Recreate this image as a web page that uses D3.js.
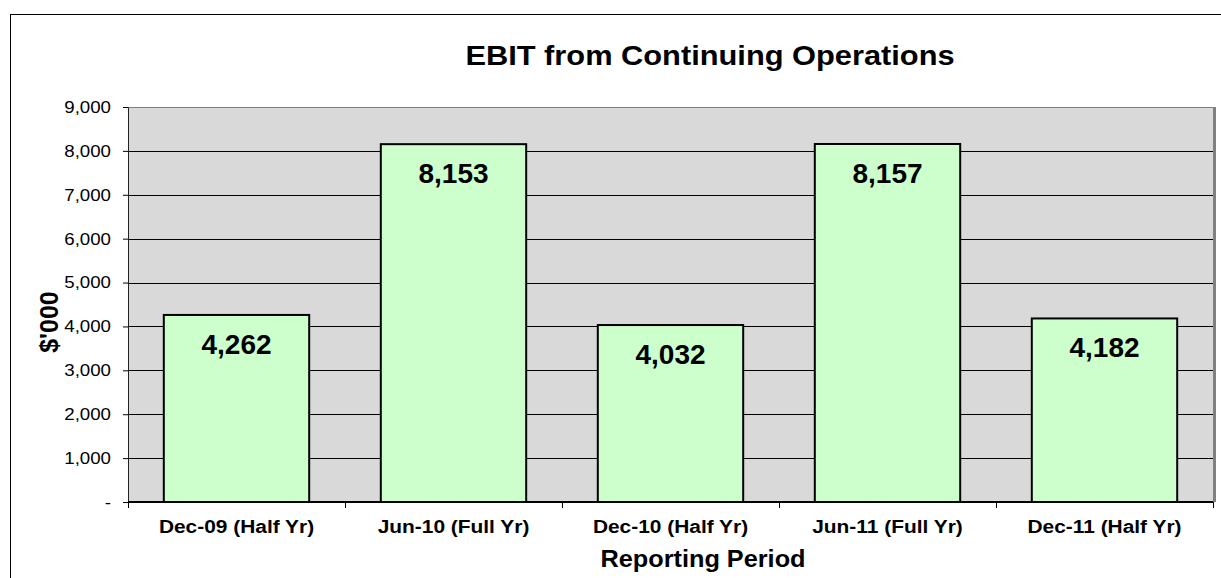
<!DOCTYPE html>
<html>
<head>
<meta charset="utf-8">
<script src="https://cdn.jsdelivr.net/npm/d3@7"></script>
<style>
  body { margin: 0; background: #fff; }
  svg text { font-family: "Liberation Sans", Arial, sans-serif; fill: #000; }
</style>
</head>
<body>
<div id="chart"></div>
<script>
const periods = ['Dec-09 (Half Yr)', 'Jun-10 (Full Yr)', 'Dec-10 (Half Yr)', 'Jun-11 (Full Yr)', 'Dec-11 (Half Yr)']
const ebit = [4262, 8153, 4032, 8157, 4182]
const yTicks = [0, 1000, 2000, 3000, 4000, 5000, 6000, 7000, 8000, 9000]

const config = {
    width: 1221,
    height: 578,
    margin: { left: 128, top: 107, right: 8, bottom: 76 },
    stretch: 1.1,
}
const plot = {
    width: config.width - config.margin.left - config.margin.right,
    height: config.height - config.margin.top - config.margin.bottom,
}

const svg = d3.select('#chart')
    .append('svg')
    .attr('width', config.width)
    .attr('height', config.height)

// outer chart border (runs off the right / bottom edge)
svg.append('rect')
    .attr('x', 10.5)
    .attr('y', 14.5)
    .attr('width', 1400)
    .attr('height', 800)
    .attr('fill', 'none')
    .attr('stroke', '#000')

svg.append('text')
    .attr('transform', `translate(710, 65) scale(${config.stretch}, 1)`)
    .attr('text-anchor', 'middle')
    .attr('font-size', '28px')
    .attr('font-weight', 'bold')
    .text('EBIT from Continuing Operations')

const root = svg.append('g')
    .attr('transform', `translate(${config.margin.left}, ${config.margin.top})`)

const x = d3.scaleBand()
    .domain(periods)
    .range([0, plot.width])
    .paddingInner(0.33)
    .paddingOuter(0.165)

const y = d3.scaleLinear()
    .domain([0, 9000])
    .range([plot.height, 0])

root.append('rect')
    .attr('width', plot.width)
    .attr('height', plot.height)
    .attr('fill', '#d9d9d9')

root.append('g')
    .selectAll('line')
    .data(yTicks.filter(t => t > 0 && t < 9000))
    .join('line')
    .attr('x1', 0)
    .attr('x2', plot.width)
    .attr('y1', d => Math.round(y(d)) + 0.5)
    .attr('y2', d => Math.round(y(d)) + 0.5)
    .attr('stroke', '#000')

// top and right plot border
root.append('line')
    .attr('x1', 0).attr('x2', plot.width)
    .attr('y1', 0.5).attr('y2', 0.5)
    .attr('stroke', '#808080')
root.append('line')
    .attr('x1', plot.width + 1.5).attr('x2', plot.width + 1.5)
    .attr('y1', 0).attr('y2', plot.height)
    .attr('stroke', '#808080')
    .attr('stroke-width', 3)

root.selectAll('.bar')
    .data(ebit)
    .join('rect')
    .attr('class', 'bar')
    .attr('x', (d, i) => x(periods[i]))
    .attr('y', d => y(d))
    .attr('width', x.bandwidth())
    .attr('height', d => plot.height - y(d))
    .attr('fill', '#ccffcc')
    .attr('stroke', '#000')
    .attr('stroke-width', 2)

root.selectAll('.bar-label')
    .data(ebit)
    .join('text')
    .attr('class', 'bar-label')
    .attr('x', (d, i) => x(periods[i]) + x.bandwidth() / 2)
    .attr('y', d => y(d) + 39)
    .attr('text-anchor', 'middle')
    .attr('font-size', '28px')
    .attr('font-weight', 'bold')
    .text(d => d3.format(',')(d))

const yAxis = root.append('g')
    .call(d3.axisLeft(y)
        .tickValues(yTicks)
        .tickSize(5)
        .tickPadding(12)
        .tickFormat(d => d === 0 ? '-' : d3.format(',')(d)))
yAxis.select('.domain').attr('stroke', '#222')
yAxis.selectAll('.tick line').attr('stroke', '#000')
yAxis.selectAll('.tick text')
    .attr('font-size', '17px')
    .attr('font-family', '"Liberation Sans", Arial, sans-serif')
    .attr('transform', `scale(${config.stretch}, 1)`)
    .attr('x', -17 / config.stretch)

const xAxis = root.append('g')
    .attr('transform', `translate(0, ${plot.height})`)
    .call(d3.axisBottom(x).tickSize(0).tickPadding(18))
xAxis.select('.domain').remove()
xAxis.selectAll('.tick text')
    .attr('font-size', '19px')
    .attr('font-weight', 'bold')
    .attr('font-family', '"Liberation Sans", Arial, sans-serif')
    .attr('transform', `scale(${config.stretch}, 1)`)

// baseline and category boundary ticks
root.append('line')
    .attr('x1', 0).attr('x2', plot.width)
    .attr('y1', plot.height).attr('y2', plot.height)
    .attr('stroke', '#000')
    .attr('stroke-width', 2)
root.append('g')
    .selectAll('line')
    .data(d3.range(periods.length + 1))
    .join('line')
    .attr('x1', i => Math.round(i * x.step()) + 0.5)
    .attr('x2', i => Math.round(i * x.step()) + 0.5)
    .attr('y1', plot.height)
    .attr('y2', plot.height + 6)
    .attr('stroke', '#000')

svg.append('text')
    .attr('transform', `translate(703, 567) scale(${config.stretch}, 1)`)
    .attr('text-anchor', 'middle')
    .attr('font-size', '23px')
    .attr('font-weight', 'bold')
    .text('Reporting Period')

svg.append('text')
    .attr('transform', 'translate(58, 322) rotate(-90)')
    .attr('text-anchor', 'middle')
    .attr('font-size', '25px')
    .attr('font-weight', 'bold')
    .text("$'000")
</script>
</body>
</html>
